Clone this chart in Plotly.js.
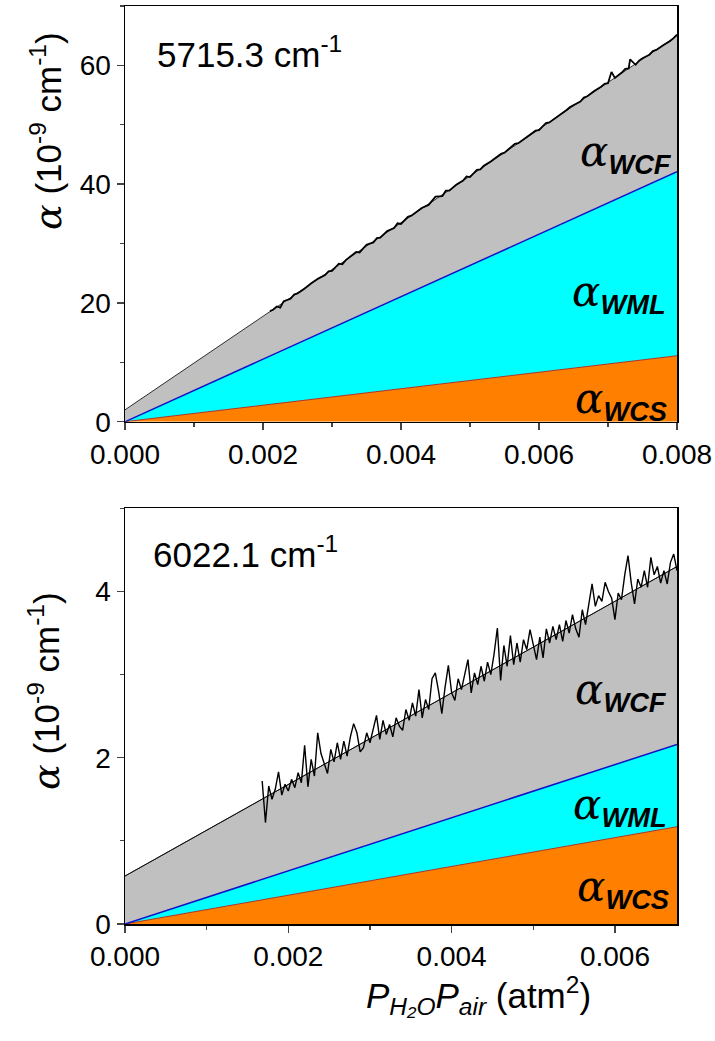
<!DOCTYPE html>
<html>
<head>
<meta charset="utf-8">
<script src="https://cdn.plot.ly/plotly-3.0.1.min.js"></script>
<style>body{margin:0;padding:0;background:#fff;}#chart{width:715px;height:1041px;}</style>
</head>
<body>
<div id="chart"></div>
<script>
// ---------- Top panel (5715.3 cm-1) ----------
const topX = [0, 0.008];
const topWCS = [0, 11.1];        // alpha_WCS boundary
const topWML = [0, 42.1];        // alpha_WCS + alpha_WML boundary
const topTotal = [2.0, 65.0];    // total fit (WCS + WML + WCF)
const topDataX = [0.0021,0.00215,0.0022,0.00225,0.0023,0.0024,0.00245,0.0025,0.0026,0.00265,0.0027,0.0028,0.0029,0.00295,0.0030,
  0.0031,0.00315,0.0032,0.0033,0.00335,0.0034,0.0035,0.0036,0.00365,0.0037,0.0038,0.0039,0.00395,0.0040,
  0.0041,0.00415,0.0042,0.0043,0.0044,0.00445,0.0045,0.0046,0.00465,0.0047,0.0048,0.0049,0.00495,0.0050,
  0.0051,0.00515,0.0052,0.0053,0.0054,0.00545,0.0055,0.0056,0.00565,0.0057,0.0058,0.0059,0.00595,0.0060,
  0.0061,0.00615,0.0062,0.0063,0.0064,0.00645,0.0065,0.0066,0.00665,0.0067,0.0068,0.0069,0.00695,0.0070,0.00705,
  0.0071,0.0072,0.00725,0.0073,0.00732,0.0074,0.00745,0.0075,0.0076,0.00765,0.0077,0.0078,0.0079,0.00795,0.0080];
const topDataY = [18.6,18.9,19.4,19.2,20.3,20.7,21.4,21.6,22.4,22.9,23.3,24.1,24.7,25.3,25.4,
  26.6,26.5,27.2,28.1,28.6,28.5,29.8,30.2,30.9,31.0,32.1,32.6,33.4,33.3,
  34.5,34.7,35.1,36.0,36.5,37.3,37.9,38.0,38.9,38.9,39.9,40.6,41.3,41.2,
  42.4,42.5,43.1,43.8,44.6,45.1,45.3,46.2,46.8,46.9,47.7,48.5,49.0,49.1,
  50.3,50.4,50.8,51.7,52.5,53.0,53.3,53.9,54.6,54.8,55.7,56.4,56.9,57.0,58.9,
  57.9,58.8,59.4,59.5,61.0,60.1,60.8,61.2,61.8,62.4,62.6,63.4,64.1,64.6,65.2];

// ---------- Bottom panel (6022.1 cm-1) ----------
const botX = [0, 0.00676];
const botWCS = [0, 1.17];
const botWML = [0, 2.16];
const botTotal = [0.577, 4.30];
const botDataX = [0.00168,0.00172,0.00176,0.00180,0.00184,0.00188,0.00192,0.00196,0.00200,0.00204,
  0.00208,0.00212,0.00216,0.00220,0.00224,0.00228,0.00232,0.00236,0.00240,0.00244,
  0.00248,0.00252,0.00256,0.00260,0.00264,0.00268,0.00272,0.00276,0.00280,0.00284,
  0.00288,0.00292,0.00296,0.00300,0.00304,0.00308,0.00312,0.00316,0.00320,0.00324,
  0.00328,0.00332,0.00336,0.00340,0.00344,0.00348,0.00352,0.00356,0.00360,0.00364,
  0.00368,0.00372,0.00376,0.00380,0.00384,0.00388,0.00392,0.00396,0.00400,0.00404,
  0.00408,0.00412,0.00416,0.00420,0.00424,0.00428,0.00432,0.00436,0.00440,0.00444,
  0.00448,0.00452,0.00456,0.00460,0.00464,0.00468,0.00472,0.00476,0.00480,0.00484,
  0.00488,0.00492,0.00496,0.00500,0.00504,0.00508,0.00512,0.00516,0.00520,0.00524,
  0.00528,0.00532,0.00536,0.00540,0.00544,0.00548,0.00552,0.00556,0.00560,0.00564,
  0.00568,0.00572,0.00576,0.00580,0.00584,0.00588,0.00592,0.00596,0.00600,0.00604,
  0.00608,0.00612,0.00616,0.00620,0.00624,0.00628,0.00632,0.00636,0.00640,0.00644,
  0.00648,0.00652,0.00656,0.00660,0.00664,0.00668,0.00672,0.00676];
const botDataY = [1.72,1.22,1.66,1.50,1.62,1.83,1.55,1.68,1.60,1.74,
  1.64,1.82,1.70,2.15,1.65,1.98,1.78,2.30,2.05,1.92,
  1.81,2.10,1.95,2.18,1.98,2.20,2.02,2.25,2.41,2.30,
  2.07,2.12,2.30,2.18,2.36,2.51,2.22,2.45,2.28,2.40,
  2.25,2.48,2.38,2.33,2.58,2.45,2.66,2.50,2.82,2.48,
  2.70,2.58,2.95,3.02,2.80,2.53,2.85,3.11,2.78,2.69,
  2.95,2.82,3.00,3.18,2.78,3.02,2.88,3.10,2.92,3.15,
  3.00,3.25,3.56,2.93,3.35,3.10,3.47,3.12,3.38,3.15,
  3.42,3.30,3.54,3.35,3.18,3.45,3.20,3.55,3.38,3.58,
  3.42,3.60,3.40,3.65,3.50,3.72,3.55,3.45,3.78,3.60,
  3.85,4.09,3.82,3.95,3.88,4.11,4.00,3.92,3.66,3.98,
  3.90,4.20,4.43,4.10,3.85,4.15,4.05,4.25,4.05,4.41,
  4.20,4.30,4.10,4.25,4.09,4.35,4.45,4.25];

const xTicks = [0, 0.002, 0.004, 0.006, 0.008];
const xTickText = ['0.000', '0.002', '0.004', '0.006', '0.008'];
const topYTicks = [0, 20, 40, 60];
const botYTicks = [0, 2, 4];

const ORANGE = '#FF8000', CYAN = '#00FFFF', GRAY = '#C0C0C0';

function bands(xs, wcs, wml, tot, xa, ya) {
  return [
    {x: xs, y: wcs, xaxis: xa, yaxis: ya, mode: 'lines', fill: 'tozeroy', fillcolor: ORANGE,
     line: {color: '#B03020', width: 1}, hoverinfo: 'skip'},
    {x: xs, y: wml, xaxis: xa, yaxis: ya, mode: 'lines', fill: 'tonexty', fillcolor: CYAN,
     line: {color: '#1010C8', width: 1.5}, hoverinfo: 'skip'},
    {x: xs, y: tot, xaxis: xa, yaxis: ya, mode: 'lines', fill: 'tonexty', fillcolor: GRAY,
     line: {color: '#000000', width: 0.8}, hoverinfo: 'skip'}
  ];
}

const traces = [
  ...bands(topX, topWCS, topWML, topTotal, 'x', 'y'),
  {x: topDataX, y: topDataY, xaxis: 'x', yaxis: 'y', mode: 'lines', line: {color: '#000', width: 1.8}},
  ...bands(botX, botWCS, botWML, botTotal, 'x2', 'y2'),
  {x: botDataX, y: botDataY, xaxis: 'x2', yaxis: 'y2', mode: 'lines', line: {color: '#000', width: 1.4}},
  {x: botX, y: botTotal, xaxis: 'x2', yaxis: 'y2', mode: 'lines', line: {color: '#000', width: 0.8}}
];

const W = 715, H = 1041;
const px = v => v / W, py = v => 1 - v / H;
const FAM = 'Liberation Sans, Arial, sans-serif';
const tickFont = {family: FAM, size: 28, color: '#000'};

function xaxisDef(range, anchor) {
  return {
    domain: [px(125), px(677)], range: range, anchor: anchor,
    tickvals: xTicks, ticktext: xTickText, ticks: 'outside', ticklen: 7, tickwidth: 1.5,
    minor: {dtick: 0.001, ticks: 'outside', ticklen: 4, tickwidth: 1.2, showgrid: false},
    showline: true, mirror: true, linecolor: '#000', linewidth: 1.5,
    showgrid: false, zeroline: false, tickfont: tickFont, automargin: false, fixedrange: true
  };
}
function yaxisDef(range, domain, anchor, tv, minorD) {
  return {
    domain: domain, range: range, anchor: anchor,
    tickvals: tv, ticks: 'outside', ticklen: 7, tickwidth: 1.5,
    minor: {dtick: minorD, ticks: 'outside', ticklen: 4, tickwidth: 1.2, showgrid: false},
    showline: true, mirror: true, linecolor: '#000', linewidth: 1.5,
    showgrid: false, zeroline: false, tickfont: tickFont, automargin: false, fixedrange: true
  };
}

const alphaSpan = '<span style="font-family:DejaVu Serif;font-style:italic;font-size:42px">α</span>';
function lbl(sub, xr, ycen) {
  return {xref: 'paper', yref: 'paper', x: px(xr), y: py(ycen), xanchor: 'right', yanchor: 'middle',
    showarrow: false, text: alphaSpan + '<sub><b><i>' + sub + '</i></b></sub>',
    font: {family: FAM, size: 39, color: '#000'}};
}
const ytitle = '<span style="font-family:DejaVu Serif;font-style:italic;font-size:38px">α</span> (10<sup>-9</sup> cm<sup>-1</sup>)';

const layout = {
  width: W, height: H, margin: {l: 0, r: 0, t: 0, b: 0},
  paper_bgcolor: '#fff', plot_bgcolor: '#fff', showlegend: false,
  xaxis: xaxisDef([0, 0.008], 'y'),
  yaxis: yaxisDef([0, 70], [py(421.7), py(6)], 'x', topYTicks, 10),
  xaxis2: xaxisDef([0, 0.00676], 'y2'),
  yaxis2: yaxisDef([0, 5], [py(924), py(508.3)], 'x2', botYTicks, 1),
  annotations: [
    {xref: 'paper', yref: 'paper', x: px(155), y: py(52), xanchor: 'left', yanchor: 'middle', showarrow: false,
     text: '5715.3 cm<sup>-1</sup>', font: {family: FAM, size: 35, color: '#000'}},
    {xref: 'paper', yref: 'paper', x: px(151), y: py(552), xanchor: 'left', yanchor: 'middle', showarrow: false,
     text: '6022.1 cm<sup>-1</sup>', font: {family: FAM, size: 35, color: '#000'}},
    {xref: 'paper', yref: 'paper', x: px(47), y: py(131), xanchor: 'center', yanchor: 'middle', showarrow: false,
     textangle: -90, text: ytitle, font: {family: FAM, size: 35, color: '#000'}},
    {xref: 'paper', yref: 'paper', x: px(45), y: py(691), xanchor: 'center', yanchor: 'middle', showarrow: false,
     textangle: -90, text: ytitle, font: {family: FAM, size: 35, color: '#000'}},
    {xref: 'paper', yref: 'paper', x: px(478), y: py(995), xanchor: 'center', yanchor: 'middle', showarrow: false,
     text: '<i>P</i><sub><i>H₂O</i></sub><i>P</i><sub><i>air</i></sub> (atm<sup>2</sup>)',
     font: {family: FAM, size: 35, color: '#000'}},
    lbl('WCF', 674, 153), lbl('WML', 668, 293), lbl('WCS', 669, 401),
    lbl('WCF', 669, 691), lbl('WML', 669, 806), lbl('WCS', 671, 888)
  ]
};

Plotly.newPlot('chart', traces, layout, {staticPlot: true, displayModeBar: false});
</script>
</body>
</html>
